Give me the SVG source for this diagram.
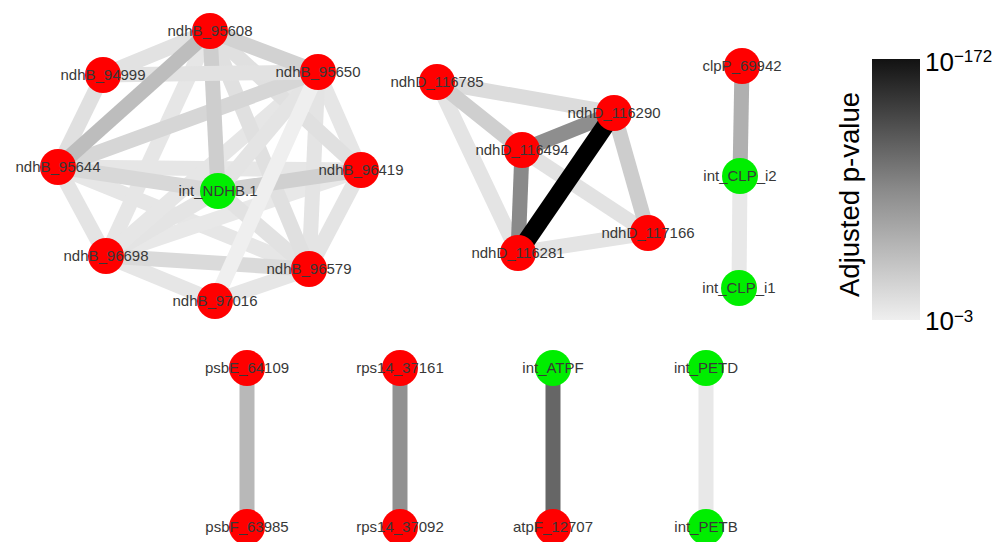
<svg xmlns="http://www.w3.org/2000/svg" width="1007" height="542" viewBox="0 0 1007 542">
<defs>
<linearGradient id="pg" x1="0" y1="0" x2="0" y2="1">
<stop offset="0" stop-color="#121212"/>
<stop offset="0.5" stop-color="#8a8a8a"/>
<stop offset="1" stop-color="#efefef"/>
</linearGradient>
</defs>
<style>
.e{stroke-width:15;fill:none}
.r{fill:#ff0000}
.g{fill:#00ee00}
.l{font-family:"Liberation Sans",Arial,sans-serif;font-size:15px;fill:#383838;text-anchor:middle}
.lg{font-family:"Liberation Sans",Arial,sans-serif;fill:#000}
</style>
<rect width="1007" height="542" fill="#fff"/>
<g id="connectors">
<line class="e" x1="309" y1="269" x2="215" y2="301" stroke="#e6e6e6"/>
<line class="e" x1="106" y1="256" x2="215" y2="301" stroke="#e6e6e6"/>
<line class="e" x1="58" y1="167" x2="106" y2="256" stroke="#e4e4e4"/>
<line class="e" x1="103" y1="75" x2="58" y2="167" stroke="#e0e0e0"/>
<line class="e" x1="361" y1="170" x2="309" y2="269" stroke="#e4e4e4"/>
<line class="e" x1="318" y1="72" x2="361" y2="170" stroke="#e6e6e6"/>
<line class="e" x1="58" y1="167" x2="309" y2="269" stroke="#e6e6e6"/>
<line class="e" x1="58" y1="167" x2="361" y2="170" stroke="#e6e6e6"/>
<line class="e" x1="361" y1="170" x2="106" y2="256" stroke="#e8e8e8"/>
<line class="e" x1="218" y1="191" x2="106" y2="256" stroke="#e4e4e4"/>
<line class="e" x1="218" y1="191" x2="309" y2="269" stroke="#e2e2e2"/>
<line class="e" x1="106" y1="256" x2="309" y2="269" stroke="#dadada"/>
<line class="e" x1="210" y1="31" x2="106" y2="256" stroke="#e6e6e6"/>
<line class="e" x1="318" y1="72" x2="106" y2="256" stroke="#e6e6e6"/>
<line class="e" x1="318" y1="72" x2="309" y2="269" stroke="#e4e4e4"/>
<line class="e" x1="210" y1="31" x2="309" y2="269" stroke="#e0e0e0"/>
<line class="e" x1="210" y1="31" x2="361" y2="170" stroke="#e0e0e0"/>
<line class="e" x1="58" y1="167" x2="218" y2="191" stroke="#d8d8d8"/>
<line class="e" x1="218" y1="191" x2="361" y2="170" stroke="#d0d0d0"/>
<line class="e" x1="318" y1="72" x2="218" y2="191" stroke="#e4e4e4"/>
<line class="e" x1="318" y1="72" x2="58" y2="167" stroke="#d6d6d6"/>
<line class="e" x1="210" y1="31" x2="218" y2="191" stroke="#cecece"/>
<line class="e" x1="103" y1="75" x2="318" y2="72" stroke="#e2e2e2"/>
<line class="e" x1="210" y1="31" x2="103" y2="75" stroke="#e2e2e2"/>
<line class="e" x1="210" y1="31" x2="58" y2="167" stroke="#bdbdbd"/>
<line class="e" x1="210" y1="31" x2="318" y2="72" stroke="#d2d2d2"/>
<line class="e" x1="318" y1="72" x2="215" y2="301" stroke="#efefef"/>
<line class="e" x1="437" y1="82" x2="614" y2="113" stroke="#dcdcdc"/>
<line class="e" x1="437" y1="82" x2="518" y2="253" stroke="#e4e4e4"/>
<line class="e" x1="437" y1="82" x2="522" y2="150" stroke="#cfcfcf"/>
<line class="e" x1="518" y1="253" x2="648" y2="233" stroke="#e4e4e4"/>
<line class="e" x1="522" y1="150" x2="648" y2="233" stroke="#e2e2e2"/>
<line class="e" x1="614" y1="113" x2="648" y2="233" stroke="#cdcdcd"/>
<line class="e" x1="522" y1="150" x2="614" y2="113" stroke="#8e8e8e"/>
<line class="e" x1="522" y1="150" x2="518" y2="253" stroke="#8a8a8a"/>
<line x1="614" y1="113" x2="518" y2="253" stroke="#000" stroke-width="18"/>
<line class="e" x1="742" y1="66" x2="740" y2="176" stroke="#b0b0b0"/>
<line class="e" x1="740" y1="176" x2="739" y2="288" stroke="#e8e8e8"/>
<line class="e" x1="247" y1="368" x2="247" y2="527" stroke="#b8b8b8"/>
<line class="e" x1="400" y1="368" x2="400" y2="527" stroke="#919191"/>
<line class="e" x1="553" y1="368" x2="553" y2="527" stroke="#666666"/>
<line class="e" x1="706" y1="368" x2="706" y2="527" stroke="#e8e8e8"/>
</g>
<g id="n95608"><circle class="r" cx="210" cy="31" r="18"/><text class="l" x="210" y="36">ndhB_95608</text></g>
<g id="n94999"><circle class="r" cx="103" cy="75" r="18"/><text class="l" x="103" y="80">ndhB_94999</text></g>
<g id="n95650"><circle class="r" cx="318" cy="72" r="18"/><text class="l" x="318" y="77">ndhB_95650</text></g>
<g id="n95644"><circle class="r" cx="58" cy="167" r="18"/><text class="l" x="58" y="172">ndhB_95644</text></g>
<g id="nNDHB1"><circle class="g" cx="218" cy="191" r="18"/><text class="l" x="218" y="196">int_NDHB.1</text></g>
<g id="n96419"><circle class="r" cx="361" cy="170" r="18"/><text class="l" x="361" y="175">ndhB_96419</text></g>
<g id="n96698"><circle class="r" cx="106" cy="256" r="18"/><text class="l" x="106" y="261">ndhB_96698</text></g>
<g id="n96579"><circle class="r" cx="309" cy="269" r="18"/><text class="l" x="309" y="274">ndhB_96579</text></g>
<g id="n97016"><circle class="r" cx="215" cy="301" r="18"/><text class="l" x="215" y="306">ndhB_97016</text></g>
<g id="n116785"><circle class="r" cx="437" cy="82" r="18"/><text class="l" x="437" y="87">ndhD_116785</text></g>
<g id="n116290"><circle class="r" cx="614" cy="113" r="18"/><text class="l" x="614" y="118">ndhD_116290</text></g>
<g id="n116494"><circle class="r" cx="522" cy="150" r="18"/><text class="l" x="522" y="155">ndhD_116494</text></g>
<g id="n116281"><circle class="r" cx="518" cy="253" r="18"/><text class="l" x="518" y="258">ndhD_116281</text></g>
<g id="n117166"><circle class="r" cx="648" cy="233" r="18"/><text class="l" x="648" y="238">ndhD_117166</text></g>
<g id="nclpP"><circle class="r" cx="742" cy="66" r="18"/><text class="l" x="742" y="71">clpP_69942</text></g>
<g id="nCLPi2"><circle class="g" cx="740" cy="176" r="18"/><text class="l" x="740" y="181">int_CLP_i2</text></g>
<g id="nCLPi1"><circle class="g" cx="739" cy="288" r="18"/><text class="l" x="739" y="293">int_CLP_i1</text></g>
<g id="npsbE"><circle class="r" cx="247" cy="368" r="18"/><text class="l" x="247" y="373">psbE_64109</text></g>
<g id="npsbF"><circle class="r" cx="247" cy="527" r="18"/><text class="l" x="247" y="532">psbF_63985</text></g>
<g id="nrps161"><circle class="r" cx="400" cy="368" r="18"/><text class="l" x="400" y="373">rps14_37161</text></g>
<g id="nrps092"><circle class="r" cx="400" cy="527" r="18"/><text class="l" x="400" y="532">rps14_37092</text></g>
<g id="nATPF"><circle class="g" cx="553" cy="368" r="18"/><text class="l" x="553" y="373">int_ATPF</text></g>
<g id="natpF"><circle class="r" cx="553" cy="527" r="18"/><text class="l" x="553" y="532">atpF_12707</text></g>
<g id="nPETD"><circle class="g" cx="706" cy="368" r="18"/><text class="l" x="706" y="373">int_PETD</text></g>
<g id="nPETB"><circle class="g" cx="706" cy="527" r="18"/><text class="l" x="706" y="532">int_PETB</text></g>
<g id="legend">
<rect x="872" y="59" width="48" height="261" fill="url(#pg)"/>
<text class="lg" font-size="27" text-anchor="middle" transform="translate(859,194.5) rotate(-90)" textLength="205" lengthAdjust="spacingAndGlyphs">Adjusted p-value</text>
<text class="lg" x="925" y="71" font-size="26">10<tspan dy="-9" font-size="17">−172</tspan></text>
<text class="lg" x="925" y="330" font-size="26">10<tspan dy="-8" font-size="17">−3</tspan></text>
</g>
</svg>
